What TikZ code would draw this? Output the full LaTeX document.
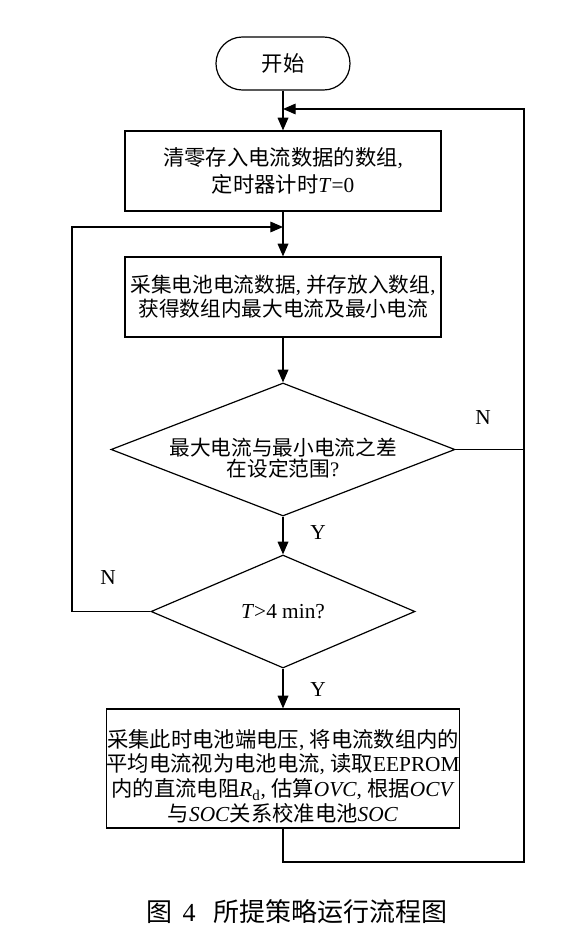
\documentclass[tikz,border=0pt]{standalone}
\usepackage{fontspec}
\setmainfont{Liberation Serif}
\newfontfamily\cjk{Noto Sans CJK SC}
\usetikzlibrary{arrows.meta, shapes.geometric}
\newcommand{\zh}[1]{{\cjk #1}}
\newcommand{\vv}[1]{\textit{#1}}

\begin{document}
\begin{tikzpicture}[
  x=0.75pt, y=-0.75pt,
  line width=0.9pt,
  base/.style={draw, align=center, inner sep=0pt,
    font=\fontsize{16}{18.5}\selectfont},
  term/.style={base, rounded corners=19.8pt, minimum width=100.5pt, minimum height=39.75pt},
  proc/.style={base, minimum width=237pt, minimum height=60pt},
  decide/.style={base, diamond, minimum width=258pt, minimum height=99.75pt},
  qtext/.style={align=center, inner sep=0pt, font=\fontsize{15.5}{15.5}\selectfont},
  yn/.style={font=\fontsize{16}{16}\selectfont, inner sep=0pt},
  arr/.style={-{Triangle[length=9.5pt, width=8pt]}},
]
  \useasboundingbox (0,0) rectangle (568,945);

  \node[term] (start) at (283,63.5) {\zh{开始}};
  \node[proc] (init) at (283,171) {\zh{清零存入电流数据的数组},\\[2pt]\zh{定时器计时}\vv{T}=0};
  \node[proc, font=\fontsize{15.5}{18}\selectfont] (sample) at (283,297)
    {\zh{采集电池电流数据}, \zh{并存放入数组},\\\zh{获得数组内最大电流及最小电流}};
  \node[decide] (check) at (283,449.5) {};
  \node[qtext] (checktxt) at (283,458) {\zh{最大电流与最小电流之差}\\\zh{在设定范围}?};
  \node[decide, minimum width=198pt, minimum height=84.75pt] (timer) at (283,611.5) {\vv{T}>4 min?};
  \node[proc, minimum width=262.5pt, minimum height=89.25pt] (calib) at (283,768.5)
    {\rule{0pt}{25pt}\zh{采集此时电池端电压}, \zh{将电流数组内的}\\
     \zh{平均电流视为电池电流}, \zh{读取}EEPROM\\
     \zh{内的直流电阻}\vv{R}\textsubscript{d}, \zh{估算}\vv{OVC}, \zh{根据}\vv{OCV}\\
     \zh{与}\vv{SOC}\zh{关系校准电池}\vv{SOC}};

  \node[yn] (n1) at (483,418) {N};
  \node[yn] (y1) at (318,533) {Y};
  \node[yn] (n2) at (108,578) {N};
  \node[yn] (y2) at (318,690) {Y};

  \node[font=\fontsize{19.5}{20}\selectfont, inner sep=0pt] (cap) at (297,912)
    {\zh{图}\hspace{0.4em}4\hspace{0.7em}\zh{所提策略运行流程图}};

  % loop corners
  \coordinate (rtop) at (524,109);
  \coordinate (rbot) at (524,862);
  \coordinate (lft) at (72,227);
  \coordinate (ret) at (283,109);
  \coordinate (back) at (283,227);

  \draw[arr] (start) -- (init);
  \draw[arr] (init) -- (sample);
  \draw[arr] (sample) -- (check);
  \draw[arr] (check) -- (timer);
  \draw[arr] (timer) -- (calib);
  \draw[arr] (calib.south) |- (rbot) -- (rtop) -- (ret);
  \draw (check.east) -- (check.east -| rbot);
  \draw[arr] (timer.west) -| (lft) -- (back);
\end{tikzpicture}
\end{document}
